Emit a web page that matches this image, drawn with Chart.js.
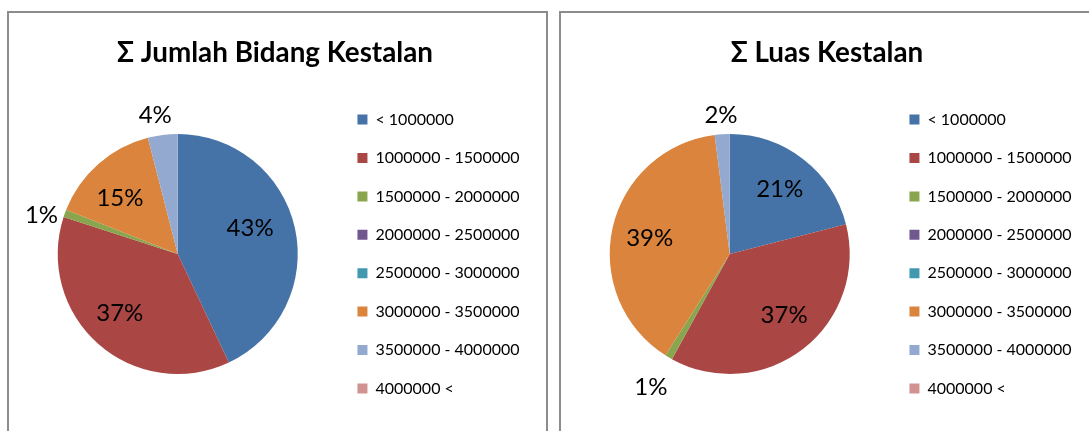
<!DOCTYPE html>
<html>
<head>
<meta charset="utf-8">
<script src="https://cdn.jsdelivr.net/npm/chart.js@4/dist/chart.umd.min.js"></script>
<style>
  html, body { margin: 0; padding: 0; background: #fff; overflow: hidden; width: 1089px; height: 431px; }
  .box { position: absolute; top: 11px; width: 537px; height: 436px; border: 2px solid #8c8c8c; background: #fff; }
  #box1 { left: 7px; }
  #box2 { left: 559px; }
  canvas { display: block; }
</style>
</head>
<body>
<div class="box" id="box1"><canvas id="c1" width="537" height="430"></canvas></div>
<div class="box" id="box2"><canvas id="c2" width="537" height="430"></canvas></div>
<script>
// ---- data ----
const categories = [
  '< 1000000',
  '1000000 - 1500000',
  '1500000 - 2000000',
  '2000000 - 2500000',
  '2500000 - 3000000',
  '3000000 - 3500000',
  '3500000 - 4000000',
  '4000000 <'
];
const jumlahBidang = [43, 37, 1, 0, 0, 15, 4, 0];
const luasKestalan = [21, 37, 1, 0, 0, 39, 2, 0];
const titleJumlah = 'Σ Jumlah Bidang Kestalan';
const titleLuas = 'Σ Luas Kestalan';

// ---- styles ----
const sliceColors = ['#4572A7', '#AA4643', '#89A54E', '#71588F', '#4198AF', '#DB843D', '#93A9CF', '#D19392'];
const FONT = 'Lato, "Open Sans", "Liberation Sans", sans-serif';

// percentage labels placed relative to each arc (radius factor + small angle nudge in degrees)
const pctLabels = {
  id: 'pctLabels',
  afterDatasetsDraw(chart, args, opts) {
    const ctx = chart.ctx;
    const ds = chart.data.datasets[0];
    const meta = chart.getDatasetMeta(0);
    const total = ds.data.reduce((a, b) => a + b, 0);
    ctx.save();
    ctx.fillStyle = '#000';
    ctx.font = opts.font;
    ctx.textAlign = 'center';
    ctx.textBaseline = 'middle';
    meta.data.forEach((arc, i) => {
      const v = ds.data[i];
      if (!v) return;
      const p = arc.getProps(['x', 'y', 'startAngle', 'endAngle', 'outerRadius'], true);
      const mid = (p.startAngle + p.endAngle) / 2 + (opts.nudge[i] || 0) * Math.PI / 180;
      const r = p.outerRadius * opts.factors[i];
      ctx.fillText(Math.round(v / total * 100) + '%', p.x + Math.cos(mid) * r, p.y + Math.sin(mid) * r);
    });
    ctx.restore();
  }
};

function makeChart(id, title, values, factors, nudge) {
  return new Chart(document.getElementById(id), {
    type: 'pie',
    data: {
      labels: categories,
      datasets: [{
        data: values,
        backgroundColor: sliceColors,
        borderWidth: 0,
        radius: 120
      }]
    },
    options: {
      responsive: false,
      animation: false,
      events: [],
      layout: { padding: { left: 11.4, right: 16.5, top: 0, bottom: 8 } },
      plugins: {
        title: {
          display: true,
          text: title,
          color: '#000',
          font: { family: FONT, size: 27.8, weight: 'bold', lineHeight: 1.2 },
          padding: { top: 23, bottom: 3.6 }
        },
        legend: {
          position: 'right',
          align: 'center',
          fullSize: false,
          labels: {
            color: '#000',
            boxWidth: 10,
            boxHeight: 10,
            padding: 22.4,
            font: { family: FONT, size: 16 }
          }
        },
        tooltip: { enabled: false },
        pctLabels: { font: '24px ' + FONT, factors: factors, nudge: nudge }
      }
    },
    plugins: [pctLabels]
  });
}

makeChart('c1', titleJumlah, jumlahBidang,
  [0.64, 0.69, 1.18, 1, 1, 0.67, 1.17, 1],
  [-7, 3, -4, 0, 0, -4.5, -2, 0]);
makeChart('c2', titleLuas, luasKestalan,
  [0.68, 0.68, 1.29, 1, 1, 0.68, 1.16, 1],
  [0, -4, 0, 0, 0, -1.3, 0, 0]);
</script>
</body>
</html>
